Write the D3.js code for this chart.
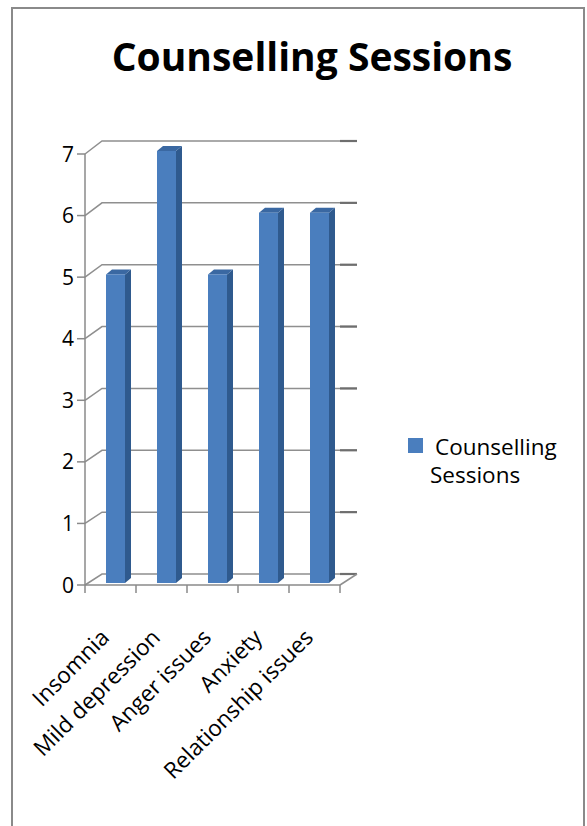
<!DOCTYPE html>
<html>
<head>
<meta charset="utf-8">
<script src="https://cdn.jsdelivr.net/npm/d3@7"></script>
<style>
  body { margin: 0; background: #fff; }
  svg { display: block; }
  text { font-family: "Open Sans", sans-serif; fill: #000; }
</style>
</head>
<body>
<svg id="chart" width="587" height="826"></svg>
<script>
// dados do gráfico
const categories = ['Insomnia', 'Mild depression', 'Anger issues', 'Anxiety', 'Relationship issues'];
const sessions = [5, 7, 5, 6, 6];
const yTicks = [0, 1, 2, 3, 4, 5, 6, 7];
const seriesName = ['Counselling', 'Sessions'];
const titleText = 'Counselling Sessions';

const svg = d3.select('#chart');

// moldura externa
svg.append('rect')
  .attr('x', 12).attr('y', 8)
  .attr('width', 572).attr('height', 840)
  .attr('fill', '#fff')
  .attr('stroke', '#8a8a8a')
  .attr('stroke-width', 2);

// título
svg.append('text')
  .attr('x', 312).attr('y', 71)
  .attr('text-anchor', 'middle')
  .attr('font-size', '39px')
  .attr('font-weight', 'bold')
  .text(titleText);

// escalas: frente, fundo (parede) e barras (meio da profundidade)
const depthX = 17;
const x = d3.scaleBand().domain(categories).range([85, 340]);
const yFront = d3.scaleLinear().domain([0, 7]).range([585, 154]);
const yBack = d3.scaleLinear().domain([0, 7]).range([574, 141]);
const yBar = d3.scaleLinear().domain([0, 7]).range([583, 151]);

const [x0, x1] = x.range();

// linhas de grade na parede do fundo
const grid = svg.append('g');
yTicks.forEach(v => {
  grid.append('path')
    .attr('d', `M${x0},${yFront(v)}L${x0 + depthX},${yBack(v)}L${x1 + depthX},${yBack(v)}`)
    .attr('fill', 'none')
    .attr('stroke', '#8f8f8f')
    .attr('stroke-width', 1.5);
  grid.append('path')
    .attr('d', `M${x1},${yBack(v)}L${x1 + depthX},${yBack(v)}`)
    .attr('stroke', '#6e6e6e')
    .attr('stroke-width', 2.2);
});

// piso: borda direita
grid.append('path')
  .attr('d', `M${x1},${yFront(0)}L${x1 + depthX},${yBack(0)}`)
  .attr('fill', 'none')
  .attr('stroke', '#8f8f8f')
  .attr('stroke-width', 1.5);

// eixo Y
const axis = svg.append('g').attr('stroke', '#8a8a8a').attr('stroke-width', 1.5);
axis.append('line')
  .attr('x1', x0).attr('x2', x0)
  .attr('y1', yFront(7)).attr('y2', yFront(0));
yTicks.forEach(v => {
  axis.append('line')
    .attr('x1', x0 - 8).attr('x2', x0)
    .attr('y1', yFront(v)).attr('y2', yFront(v));
});

// eixo X
axis.append('line')
  .attr('x1', x0).attr('x2', x1)
  .attr('y1', yFront(0)).attr('y2', yFront(0));
categories.concat([null]).forEach(c => {
  const xx = c ? x(c) : x1;
  axis.append('line')
    .attr('x1', xx).attr('x2', xx)
    .attr('y1', yFront(0)).attr('y2', yFront(0) + 8);
});

// rótulos Y
svg.append('g').selectAll('text')
  .data(yTicks)
  .join('text')
    .attr('x', 74)
    .attr('y', d => yFront(d))
    .attr('dy', '0.36em')
    .attr('text-anchor', 'end')
    .attr('font-size', '21px')
    .text(d => d);

// barras 3D
const barW = 19, sideX = 6, sideY = 5;
const bars = svg.append('g').selectAll('g')
  .data(categories.map((c, i) => ({ c, v: sessions[i] })))
  .join('g');
bars.each(function(d) {
  const g = d3.select(this);
  const bx = x(d.c) + 21;
  const top = yBar(d.v), bot = yBar(0);
  g.append('path')
    .attr('d', `M${bx + barW},${top}L${bx + barW + sideX},${top - sideY}L${bx + barW + sideX},${bot - sideY}L${bx + barW},${bot}Z`)
    .attr('fill', '#2f5a8e');
  g.append('path')
    .attr('d', `M${bx},${top}L${bx + sideX},${top - sideY}L${bx + barW + sideX},${top - sideY}L${bx + barW},${top}Z`)
    .attr('fill', '#3a68a2');
  g.append('rect')
    .attr('x', bx).attr('y', top)
    .attr('width', barW).attr('height', bot - top)
    .attr('fill', '#4a7ebe');
});

// rótulos X rotacionados
svg.append('g').selectAll('text')
  .data(categories)
  .join('text')
    .attr('transform', d => `translate(${x(d) + x.bandwidth() / 2},639) rotate(-45)`)
    .attr('text-anchor', 'end')
    .attr('font-size', '22.5px')
    .text(d => d);

// legenda
svg.append('rect')
  .attr('x', 408).attr('y', 438)
  .attr('width', 15).attr('height', 15)
  .attr('fill', '#4a7ebe');
svg.append('text')
  .attr('x', 435).attr('y', 455)
  .attr('font-size', '22.5px')
  .text(seriesName[0]);
svg.append('text')
  .attr('x', 430).attr('y', 483)
  .attr('font-size', '22.5px')
  .text(seriesName[1]);
</script>
</body>
</html>
